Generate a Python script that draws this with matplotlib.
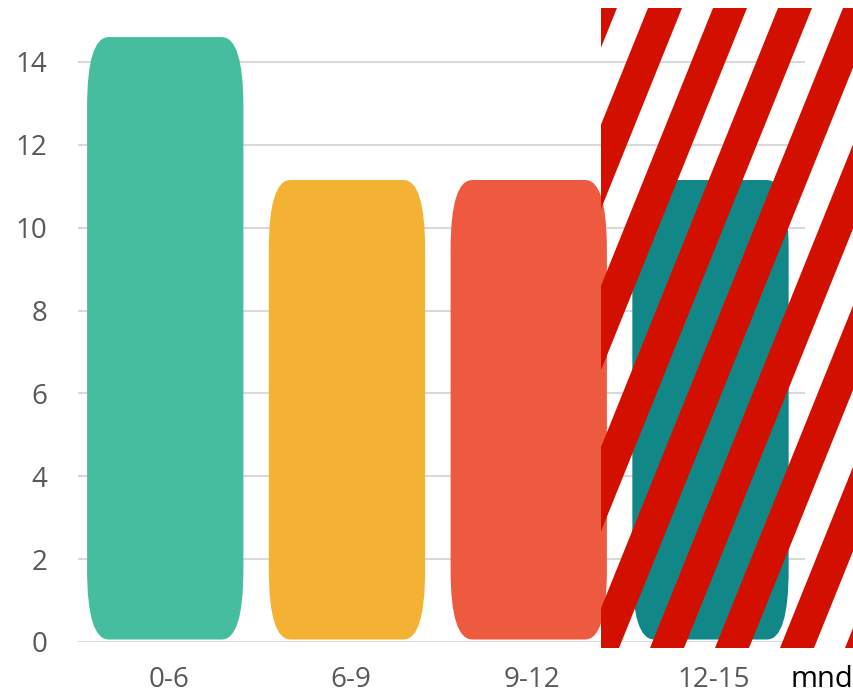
import matplotlib
matplotlib.use("Agg")
import matplotlib.pyplot as plt
from matplotlib.patches import FancyBboxPatch, Polygon

categories = ["0-6", "6-9", "9-12", "12-15"]
values = [14.6, 11.15, 11.15, 11.15]
colors = ["#47BDA0", "#F3B234", "#EE5A40", "#128787"]
yticks = [0, 2, 4, 6, 8, 10, 12, 14]
unit_label = "mnd"

plt.rcParams['font.family'] = ['Open Sans', 'DejaVu Sans']

W, H = 854, 696
fig = plt.figure(figsize=(W / 100, H / 100), dpi=100)
ax = fig.add_axes([78 / W, 54 / H, 727 / W, 621.5 / H])
ax.set_xlim(-0.5, len(categories) - 0.5)
ax.set_ylim(0, 15)

bw = 0.86
r = 0.12
for i, (v, c) in enumerate(zip(values, colors)):
    p = FancyBboxPatch((i - bw / 2 - 0.02, 0.06), bw, v - 0.06,
                       boxstyle=f"round,pad=0,rounding_size={r}",
                       mutation_aspect=14, facecolor=c, edgecolor="none", zorder=3)
    ax.add_patch(p)

ax.set_yticks(yticks)
ax.set_xticks(range(len(categories)))
ax.set_xticklabels(categories)
ax.grid(axis="y", color="#D9D9D9", linewidth=1.5, zorder=0)
ax.tick_params(axis="both", length=0, labelsize=20, colors="#595959")
ax.tick_params(axis="y", pad=22)
ax.tick_params(axis="x", pad=17)
for s in ax.spines.values():
    s.set_visible(False)

fig.text(791 / W, 1 - 687 / H, unit_label, fontsize=21, color="black",
         ha="left", va="baseline")

# striped overlay (transparent gaps)
ov = fig.add_axes([601 / W, 1 - 648 / H, 253 / W, 640 / H])
ov.set_xlim(601, 854)
ov.set_ylim(648, 8)
ov.axis("off")
ov.patch.set_alpha(0)
period = 65
red_w = 34
shift = 258
x0 = 648 - 65 * 2
while x0 < 854 + shift:
    poly = Polygon([(x0, 8), (x0 + red_w, 8), (x0 + red_w - shift, 648), (x0 - shift, 648)],
                   closed=True, facecolor="#D30F00", edgecolor="none")
    ov.add_patch(poly)
    x0 += period

fig.savefig("out.png", dpi=100)
